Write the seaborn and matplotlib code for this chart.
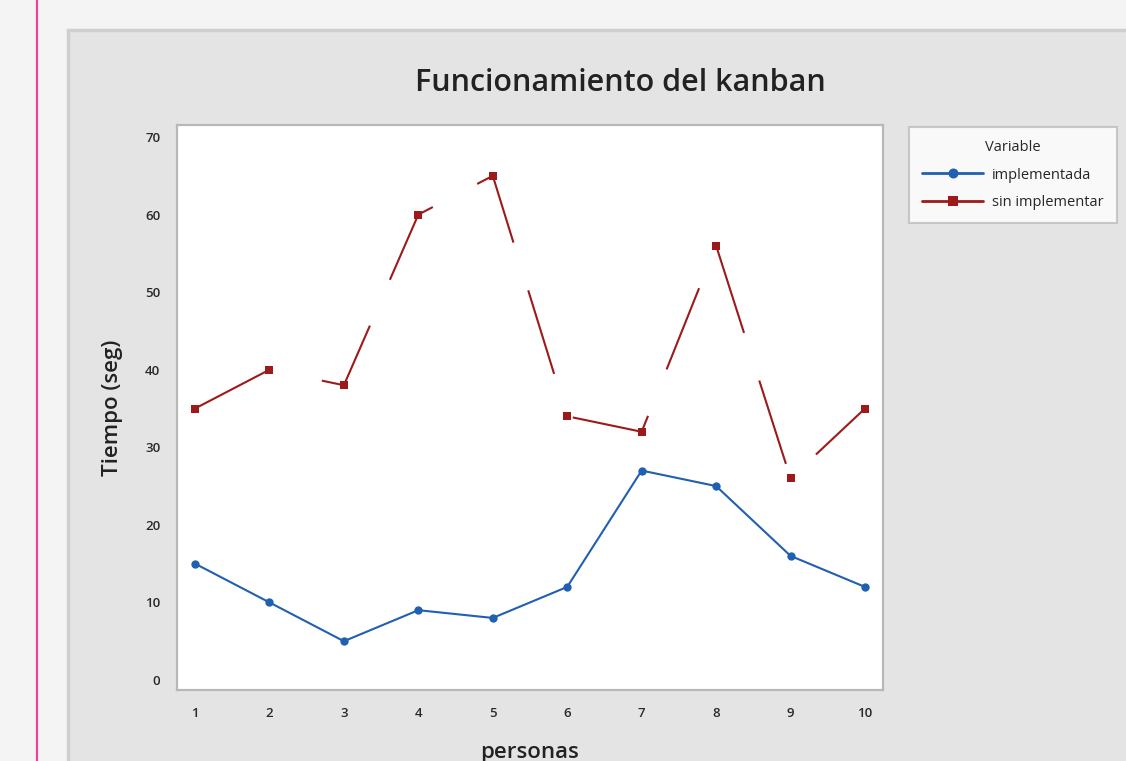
import matplotlib
matplotlib.use("Agg")
import matplotlib.pyplot as plt
import seaborn as sns
import pandas as pd
from matplotlib.patches import Rectangle
from matplotlib.lines import Line2D

personas = [1, 2, 3, 4, 5, 6, 7, 8, 9, 10]
implementada = [15, 10, 5, 9, 8, 12, 27, 25, 16, 12]
sin_implementar = [35, 40, 38, 60, 65, 34, 32, 56, 26, 35]
series_names = ["implementada", "sin implementar"]
y_ticks = [0, 10, 20, 30, 40, 50, 60, 70]

df = pd.DataFrame({
    "personas": personas * 2,
    "Tiempo": implementada + sin_implementar,
    "Variable": [series_names[0]] * len(personas) + [series_names[1]] * len(personas),
})

sns.set_style("white")
plt.rcParams['font.family'] = ['Open Sans', 'DejaVu Sans']

W, H = 1126, 761
fig = plt.figure(figsize=(W / 100, H / 100), dpi=100, facecolor="#f4f4f4")

# gray chart panel
fig.patches.append(Rectangle((68 / W, -0.05), 1.1, (H - 30) / H + 0.05,
                             transform=fig.transFigure, facecolor="#e4e4e4",
                             edgecolor="#cfcfcf", linewidth=2.5, zorder=-5))
# pink vertical line
fig.lines.append(Line2D([37 / W, 37 / W], [0, 1], transform=fig.transFigure,
                        color="#e8459a", linewidth=1.6, zorder=-4))

ax = fig.add_axes([177 / W, 1 - 690 / H, (883 - 177) / W, (690 - 125) / H])
ax.set_facecolor("white")

palette = {series_names[0]: "#2060b0", series_names[1]: "#9c1a1a"}
sns.lineplot(data=df, x="personas", y="Tiempo", hue="Variable", style="Variable",
             palette=palette, markers={series_names[0]: "o", series_names[1]: "s"},
             dashes={series_names[0]: "", series_names[1]: (42, 24)},
             markersize=6, linewidth=1.5, markeredgewidth=0, ax=ax, legend=True)

ax.set_xlim(0.758, 10.242)
ax.set_ylim(-1.29, 71.55)
ax.set_xticks(personas)
ax.set_yticks(y_ticks)
ax.tick_params(axis="both", length=4, width=1, color="#9a9a9a", labelsize=9.5,
               labelcolor="#2a2a2a", direction="out")
ax.tick_params(axis="x", pad=8)
ax.tick_params(axis="y", pad=8)
for lab in ax.get_xticklabels() + ax.get_yticklabels():
    lab.set_fontweight("semibold")
for s in ax.spines.values():
    s.set_color("#b8b8b8")
    s.set_linewidth(1.6)

ax.set_xlabel("personas", fontsize=16, color="#222222", labelpad=16, fontweight="semibold")
ax.set_ylabel("Tiempo (seg)", fontsize=16, color="#222222", labelpad=16, fontweight="semibold")
fig.text(620 / W, 1 - 83 / H, "Funcionamiento del kanban", ha="center", va="center",
         fontsize=22, color="#222222", fontweight="semibold")

handles, labels = ax.get_legend_handles_labels()
ax.legend(handles=handles, labels=labels, title="Variable",
          loc="upper left", bbox_to_anchor=(909 / W, 1 - 127 / H),
          bbox_transform=fig.transFigure, fontsize=10.5, title_fontsize=10.5,
          frameon=True, fancybox=False, edgecolor="#bdbdbd", facecolor="white",
          handlelength=4.2, handletextpad=0.6, borderpad=0.9, labelspacing=0.85,
          borderaxespad=0, markerscale=1.2)
leg = ax.get_legend()
leg.get_frame().set_linewidth(1.5)
for l in leg.get_lines():
    l.set_linestyle("-")
    l.set_linewidth(2)

fig.savefig("out.png", dpi=100, facecolor=fig.get_facecolor())
